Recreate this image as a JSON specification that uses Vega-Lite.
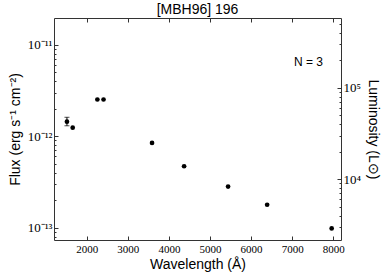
{
  "$schema": "https://vega.github.io/schema/vega-lite/v6.json",
  "width": 287,
  "height": 222,
  "autosize": "none",
  "padding": {"left": 54, "top": 18, "right": 41, "bottom": 37},
  "background": "white",
  "title": {"text": "[MBH96] 196", "font": "Liberation Sans", "fontSize": 14, "fontWeight": "normal", "color": "black", "offset": 1},
  "config": {
    "view": {"stroke": null},
    "axis": {"domainColor": "#333", "tickColor": "#333", "grid": false, "labelFont": "Liberation Serif", "labelFontSize": 11, "labelColor": "black", "titleFont": "Liberation Sans", "titleFontSize": 14, "titleFontWeight": "normal", "titleColor": "black"}
  },
  "data": {"values": [
    {"wl": 1520, "flux": 1.44e-12, "lo": 1.30e-12, "hi": 1.61e-12, "lum": 42600},
    {"wl": 1660, "flux": 1.24e-12, "lo": 1.24e-12, "hi": 1.24e-12, "lum": 36700},
    {"wl": 2260, "flux": 2.52e-12, "lo": 2.52e-12, "hi": 2.52e-12, "lum": 74600},
    {"wl": 2410, "flux": 2.52e-12, "lo": 2.52e-12, "hi": 2.52e-12, "lum": 74600},
    {"wl": 3590, "flux": 8.45e-13, "lo": 8.45e-13, "hi": 8.45e-13, "lum": 25000},
    {"wl": 4370, "flux": 4.69e-13, "lo": 4.69e-13, "hi": 4.69e-13, "lum": 13900},
    {"wl": 5440, "flux": 2.81e-13, "lo": 2.81e-13, "hi": 2.81e-13, "lum": 8320},
    {"wl": 6390, "flux": 1.78e-13, "lo": 1.78e-13, "hi": 1.78e-13, "lum": 5270},
    {"wl": 7960, "flux": 9.8e-14, "lo": 9.8e-14, "hi": 9.8e-14, "lum": 2900}
  ]},
  "resolve": {"scale": {"y": "independent"}, "axis": {"x": "independent", "y": "independent"}},
  "layer": [
    {
      "layer": [
        {
          "mark": {"type": "circle", "color": "black", "opacity": 1, "size": 22},
          "encoding": {
            "x": {"field": "wl", "type": "quantitative", "scale": {"domain": [1205, 8187], "nice": false, "zero": false},
              "title": "Wavelength (Å)",
              "axis": {"titlePadding": 3,
                "values": [2000, 3000, 4000, 5000, 6000, 7000, 8000], "format": "d",
                "tickSize": -4, "labelPadding": 7}},
            "y": {"field": "flux", "type": "quantitative",
              "scale": {"type": "log", "domain": [7.33e-14, 1.96e-11], "nice": false},
              "title": "Flux (erg s⁻¹ cm⁻²)",
              "axis": {
                "titlePadding": 5,
                "labelFontSize": 13,
                "values": [8e-14, 9e-14, 1e-13, 2e-13, 3e-13, 4e-13, 5e-13, 6e-13, 7e-13, 8e-13, 9e-13, 1e-12, 2e-12, 3e-12, 4e-12, 5e-12, 6e-12, 7e-12, 8e-12, 9e-12, 1e-11],
                "labelExpr": "datum.value == 1e-13 ? '10⁻¹³' : datum.value == 1e-12 ? '10⁻¹²' : datum.value == 1e-11 ? '10⁻¹¹' : ''",
                "tickSize": {"condition": {"test": "datum.value == 1e-13 || datum.value == 1e-12 || datum.value == 1e-11", "value": -4}, "value": -2},
                "labelPadding": 6
              }
            }
          }
        },
        {
          "transform": [{"filter": "datum.hi > datum.lo"}],
          "mark": {"type": "errorbar", "ticks": {"size": 5, "color": "black"}, "color": "black", "thickness": 1},
          "encoding": {
            "x": {"field": "wl", "type": "quantitative"},
            "y": {"field": "lo", "type": "quantitative", "title": "Flux (erg s⁻¹ cm⁻²)"},
            "y2": {"field": "hi"}
          }
        },
        {
          "data": {"values": [{"label": "N = 3"}]},
          "mark": {"type": "text", "font": "Liberation Sans", "fontSize": 12, "align": "right", "baseline": "middle", "color": "black"},
          "encoding": {
            "text": {"field": "label"},
            "x": {"datum": 7750, "type": "quantitative"},
            "y": {"datum": 6.5e-12, "type": "quantitative"}
          }
        }
      ]
    },
    {
      "mark": {"type": "point", "opacity": 0},
      "encoding": {
        "x": {"field": "wl", "type": "quantitative",
          "axis": {"orient": "top", "values": [2000, 3000, 4000, 5000, 6000, 7000, 8000], "labels": false, "title": null, "tickSize": -4}},
        "y": {"field": "lum", "type": "quantitative",
          "scale": {"type": "log", "domain": [2160, 580000], "nice": false},
          "title": "Luminosity (L⊙)",
          "axis": {"orient": "right", "titlePadding": 5, "labelFontSize": 13,
            "values": [3000, 4000, 5000, 6000, 7000, 8000, 9000, 10000, 20000, 30000, 40000, 50000, 60000, 70000, 80000, 90000, 100000, 200000, 300000, 400000, 500000],
            "labelExpr": "datum.value == 10000 ? '10⁴' : datum.value == 100000 ? '10⁵' : ''",
            "tickSize": {"condition": {"test": "datum.value == 10000 || datum.value == 100000", "value": -4}, "value": -2},
            "labelPadding": 6}
        }
      }
    }
  ]
}
